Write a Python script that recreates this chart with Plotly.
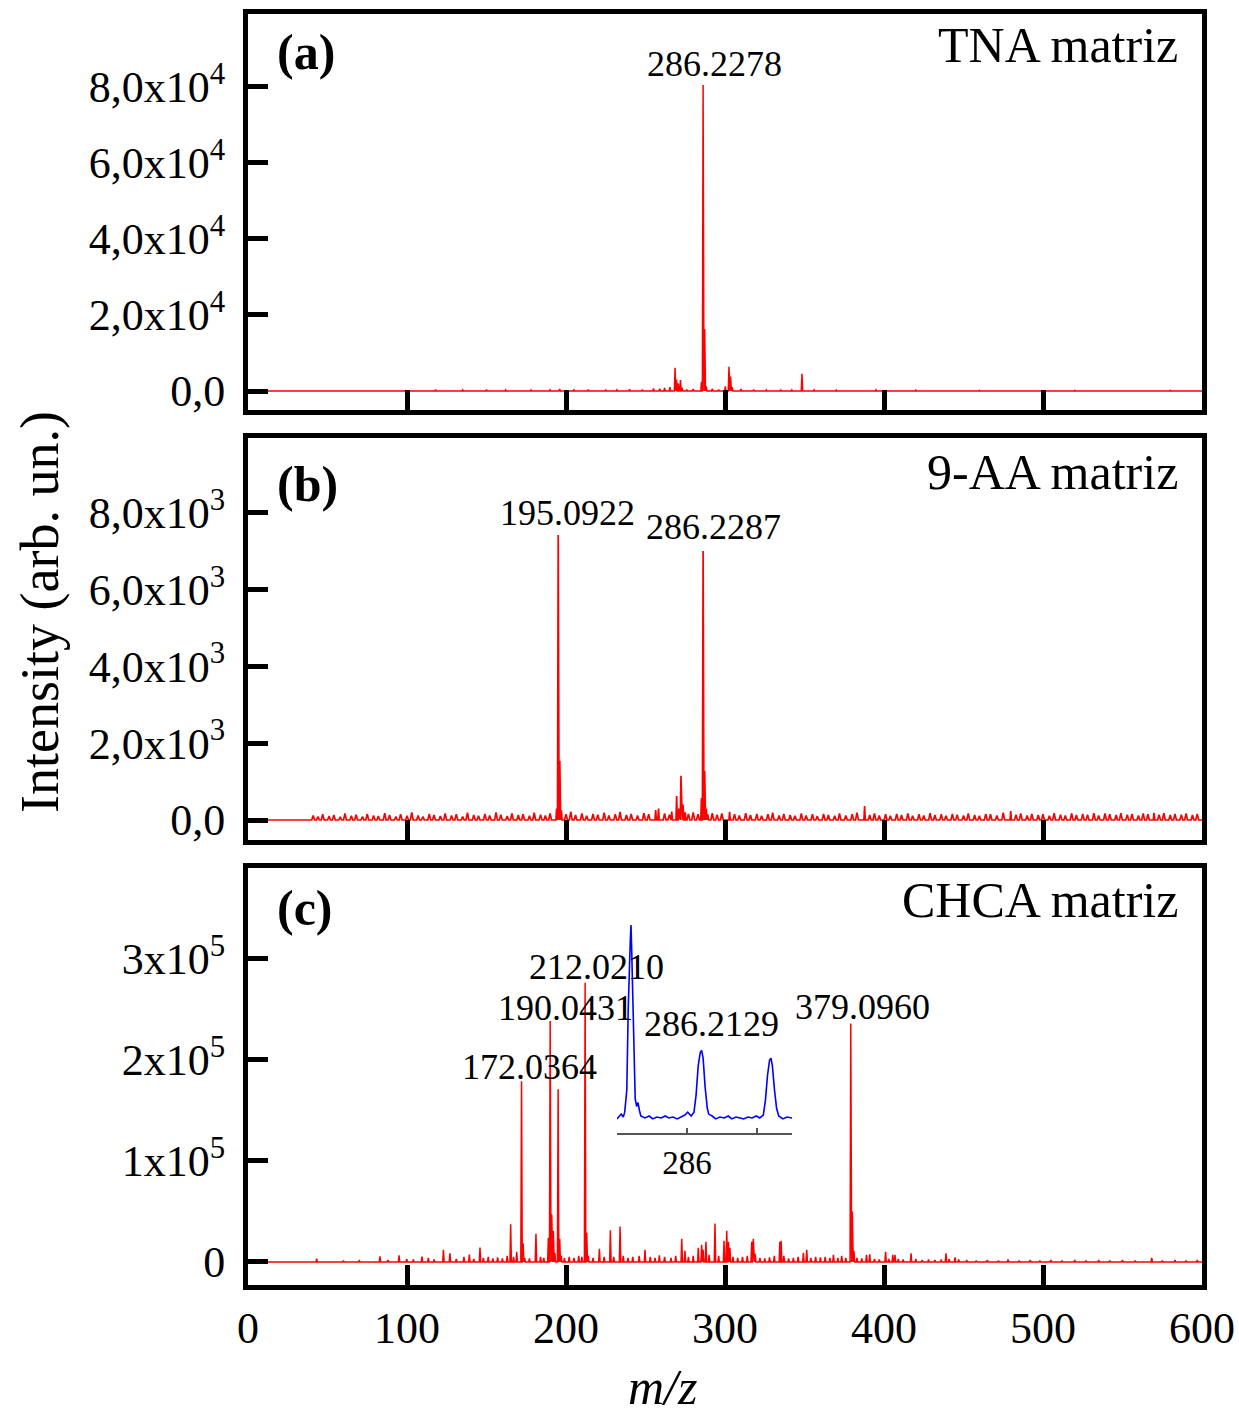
import plotly.graph_objects as go

# ---------------- data ----------------
MZ_RANGE = [0, 600]
MZ_TICKS = [0, 100, 200, 300, 400, 500, 600]

# (a) TNA matrix: centroid peaks (m/z, intensity)
TNA_PEAKS = [
    (118, 350), (135, 300), (150, 400), (162, 300), (178, 350), (190, 300),
    (196, 500), (205, 300), (214, 400), (225, 350), (232, 300), (240, 450),
    (248, 400), (255, 700), (259, 600), (262, 800), (265.4, 1000),
    (268.6, 6100), (269.5, 3000), (270.6, 2000), (272.0, 2900), (273.0, 900),
    (276, 400), (280, 500), (285.2, 2400), (286.2278, 80500), (287.23, 16300),
    (288.2, 1200), (292, 600), (296, 400), (300.2, 1200), (302.5, 6400),
    (303.5, 3800), (304.5, 1000), (310, 500), (318, 400), (326, 300),
    (335, 400), (342, 300), (348.4, 4500), (356, 300), (370, 250),
    (395, 300), (420, 250), (460, 200), (520, 200), (580, 200),
]

# (b) 9-AA matrix: main peaks
AA_PEAKS = [
    (194.1, 300), (195.0922, 7427), (196.1, 1545), (197.1, 250),
    (256.4, 260), (258.2, 300), (266.5, 220), (269.6, 625), (271.0, 300),
    (272.3, 1155), (273.6, 400), (275.0, 200), (285.2, 570), (286.2287, 7010),
    (287.23, 1277), (288.2, 300), (289.2, 150), (302.9, 216), (387.8, 365),
    (479.7, 235), (569.8, 190),
]
# (b) 9-AA matrix: baseline noise
AA_NOISE = [
    (41, 120), (44, 90), (47, 150), (51, 100), (54, 130), (58, 80), (61, 170),
    (65, 110), (68, 140), (72, 90), (75, 160), (79, 120), (82, 100), (86, 180),
    (89, 130), (93, 90), (96, 150), (100, 110), (103, 200), (107, 120),
    (110, 90), (114, 160), (117, 130), (121, 100), (124, 170), (128, 120),
    (131, 150), (135, 90), (138, 190), (142, 130), (145, 110), (149, 160),
    (152, 120), (156, 200), (159, 140), (163, 100), (166, 170), (170, 130),
    (173, 150), (177, 110), (180, 190), (184, 140), (187, 120), (190, 170),
    (200, 150), (203, 220), (206, 130), (210, 170), (213, 110), (217, 160),
    (220, 140), (224, 190), (227, 120), (231, 150), (234, 210), (238, 130),
    (241, 160), (245, 120), (249, 180), (252, 150), (262, 170), (265, 140),
    (277, 160), (280, 200), (283, 150), (292, 180), (295, 140), (298, 170),
    (306, 150), (309, 120), (313, 180), (316, 130), (320, 160), (323, 110),
    (327, 150), (330, 190), (334, 120), (337, 160), (341, 130), (344, 110),
    (348, 170), (351, 120), (355, 150), (358, 100), (362, 160), (365, 130),
    (369, 110), (372, 170), (376, 120), (380, 150), (383, 190), (391, 130),
    (394, 170), (397, 120), (401, 150), (404, 110), (408, 160), (411, 130),
    (415, 170), (418, 110), (422, 150), (425, 120), (429, 180), (432, 130),
    (436, 150), (439, 110), (443, 160), (446, 140), (450, 120), (453, 170),
    (457, 130), (460, 110), (464, 160), (467, 150), (471, 120), (475, 190),
    (483, 140), (486, 170), (490, 120), (493, 160), (497, 130), (500, 150),
    (504, 110), (507, 180), (511, 140), (514, 120), (518, 170), (521, 130),
    (525, 160), (528, 140), (532, 180), (535, 120), (539, 170), (542, 150),
    (546, 130), (549, 180), (553, 140), (556, 160), (560, 120), (563, 170),
    (566, 150), (573, 140), (576, 180), (580, 130), (583, 160), (587, 140),
    (590, 170), (594, 130), (597, 160),
]

# (c) CHCA matrix: centroid peaks
CHCA_PEAKS = [
    (43.2, 3400), (60, 1500), (70, 1200), (83.0, 5600), (88, 2000),
    (95.0, 6600), (99.8, 3000), (104, 2500), (109.4, 5200), (113.4, 4000),
    (117, 2500), (122.9, 12000), (127.0, 8600), (131, 3000), (135.8, 5000),
    (139.2, 7300), (142, 3000), (145.9, 14300), (148, 4000), (151.1, 5000),
    (154, 3500), (157, 4500), (160, 3500), (163, 6000), (165.2, 37400),
    (167, 5000), (169.0, 10000), (172.0364, 179000), (173.04, 18500),
    (174, 4000), (177, 3500), (181.1, 28000), (184, 5000), (186, 4000),
    (188.9, 24000), (190.0431, 238600), (191.05, 47000), (192.05, 31000),
    (193, 9000), (195.05, 171000), (196.05, 23000), (197, 6000), (199, 4000),
    (202, 5000), (205, 4000), (208, 6000), (210, 5000), (212.0210, 276500),
    (213.02, 29000), (214, 6000), (217, 4000), (221.0, 13000), (224, 5000),
    (227.9, 31500), (230, 5000), (234.0, 35000), (236, 6000), (239, 4000),
    (242, 5000), (246, 6000), (249.7, 12000), (253, 5000), (256, 4000),
    (258.7, 6600), (262, 5000), (266, 4000), (269, 6000), (272.8, 23000),
    (274.8, 11000), (277, 5000), (280, 6000), (283.2, 14000), (285.3, 17000),
    (286.2129, 12000), (288.0, 20000), (290, 7000), (293.7, 38000),
    (296, 6000), (299.4, 21000), (301.1, 31000), (302.2, 20000),
    (303.1, 14000), (305, 5000), (308, 4000), (311, 5000), (314, 6000),
    (316.8, 20000), (317.8, 23000), (319, 8000), (322, 4000), (325, 3500),
    (328, 4500), (331, 6000), (334.5, 20000), (335.3, 21000), (337, 6000),
    (340, 3500), (343, 4000), (346, 5000), (349.3, 9000), (351.4, 12000),
    (354, 4000), (357, 5000), (360, 4500), (363, 5000), (366, 4000),
    (368.2, 7000), (371, 4000), (373.4, 6000), (376, 4000),
    (379.0960, 236000), (380.1, 50000), (381.1, 11000), (383, 4000),
    (386, 3500), (389, 7000), (391, 7500), (394, 3000), (397, 2500),
    (401.0, 10000), (403, 3000), (405.5, 7000), (406.9, 7000), (409, 3000),
    (412, 2500), (417.0, 8500), (420, 3000), (424, 2000), (428, 2500),
    (432, 2000), (436, 2500), (439.0, 8500), (441, 3000), (444.7, 4500),
    (447, 2500), (452, 2000), (458, 1500), (465, 2000), (472, 1500),
    (478, 2500), (485, 1500), (492, 2000), (498, 1500), (505, 2000),
    (512, 1500), (520, 2000), (527, 1500), (535, 2000), (542, 1500),
    (550, 2000), (558, 1500), (568.4, 4000), (575, 1500), (583, 2000),
    (590, 1500), (597, 2000),
]

# (c) inset: zoomed profile around m/z 286 (relative intensity)
INSET_MZ = [
    285.00, 285.03, 285.06, 285.09, 285.11, 285.14, 285.16, 285.19, 285.20,
    285.21, 285.24, 285.26, 285.28, 285.30, 285.32, 285.34, 285.40, 285.46,
    285.51, 285.57, 285.63, 285.69, 285.74, 285.80, 285.86, 285.91, 285.97,
    286.01, 286.06, 286.10, 286.13, 286.16, 286.19, 286.21, 286.23, 286.26,
    286.29, 286.31, 286.36, 286.41, 286.47, 286.53, 286.59, 286.64, 286.70,
    286.76, 286.81, 286.87, 286.93, 286.99, 287.04, 287.09, 287.12, 287.15,
    287.18, 287.20, 287.22, 287.25, 287.28, 287.31, 287.37, 287.43, 287.47,
    287.50,
]
INSET_INT = [
    -0.5, 1, 2, 0.5, 3, 14.5, 56, 92, 100,
    87, 40, 10, 6, 8, 4, 1, 0, 1,
    -0.5, 0.5, 0, 1, 0, 0.5, -0.5, 0.5, 1.5,
    3, 1, 3, 12, 27, 34, 35, 31, 15.5,
    5, 2, 1, -0.5, 0.5, 0, 1, -0.5, 0.5,
    0, -0.5, 0.5, 0, 1, 0, 1.5, 9, 22,
    30, 31, 27, 14.5, 5, 1, -0.5, 0.5, 0,
    0,
]
INSET_TICKS = [285, 286, 287]
INSET_TICKTEXT = ["", "286", ""]

TICKS_A = [0, 20000, 40000, 60000, 80000]
TICKTEXT_A = ["0,0", "2,0x10<sup>4</sup>", "4,0x10<sup>4</sup>",
              "6,0x10<sup>4</sup>", "8,0x10<sup>4</sup>"]
TICKS_B = [0, 2000, 4000, 6000, 8000]
TICKTEXT_B = ["0,0", "2,0x10<sup>3</sup>", "4,0x10<sup>3</sup>",
              "6,0x10<sup>3</sup>", "8,0x10<sup>3</sup>"]
TICKS_C = [0, 100000, 200000, 300000]
TICKTEXT_C = ["0", "1x10<sup>5</sup>", "2x10<sup>5</sup>", "3x10<sup>5</sup>"]

# labelled peaks: (panel, m/z, intensity, xshift, yshift)
LABELS = [
    ("a", 286.2278, 80500, 11, -1),
    ("b", 195.0922, 7427, 9, 0),
    ("b", 286.2287, 7010, 10, 2),
    ("c", 212.0210, 276500, 11, -6),
    ("c", 190.0431, 238600, 15, -9),
    ("c", 172.0364, 179000, 8, -8),
    ("c", 379.0960, 236000, 12, -5),
    ("inset", 286.2129, 35, 10, 4),
]

MATRIX_NAMES = {"a": "TNA matriz", "b": "9-AA matriz", "c": "CHCA matriz"}

# ---------------- helpers ----------------
FONT = "Liberation Serif"
RED = "#ff0000"
BLUE = "#0000ff"


def stick_profile(groups, start=0.0, end=600.0):
    """Turn centroid lists into a triangular profile.

    groups: list of (peaks, half_width) pairs."""
    pts = [(start, 0.0)]
    for peaks, half in groups:
        for m, h in peaks:
            pts += [(m - half, 0.0), (m, h), (m + half, 0.0)]
    pts.append((end, 0.0))
    pts.sort(key=lambda p: p[0])
    return [p[0] for p in pts], [p[1] for p in pts]


fig = go.Figure()

xa, ya = stick_profile([(TNA_PEAKS, 0.45)])
fig.add_trace(go.Scatter(x=xa, y=ya, mode="lines", line=dict(color=RED, width=1.5),
                         xaxis="x", yaxis="y", hoverinfo="skip"))

xb, yb = stick_profile([(AA_PEAKS, 0.45), (AA_NOISE, 0.9)])
fig.add_trace(go.Scatter(x=xb, y=yb, mode="lines", line=dict(color=RED, width=1.7),
                         xaxis="x2", yaxis="y2", hoverinfo="skip"))

xc, yc = stick_profile([(CHCA_PEAKS, 0.45)])
fig.add_trace(go.Scatter(x=xc, y=yc, mode="lines", line=dict(color=RED, width=1.5),
                         xaxis="x3", yaxis="y3", hoverinfo="skip"))

fig.add_trace(go.Scatter(x=INSET_MZ, y=INSET_INT, mode="lines",
                         line=dict(color=BLUE, width=1.6),
                         xaxis="x4", yaxis="y4", hoverinfo="skip"))

W, H = 1239, 1415
ML, MR, MT, MB = 248, 37, 14, 130
PW = W - ML - MR
PH = H - MT - MB


def py_to_paper(py):
    return (H - MB - py) / PH


def px_to_paper(px):
    return (px - ML) / PW


tick_font = dict(family=FONT, size=44, color="black")

frame = dict(showline=True, linewidth=5, linecolor="black", mirror=True,
             ticks="inside", ticklen=20, tickwidth=5, tickcolor="black",
             showgrid=False, zeroline=False, tickfont=tick_font,
             automargin=False)

dom_a = [py_to_paper(410), py_to_paper(14)]
dom_b = [py_to_paper(840), py_to_paper(438)]
dom_c = [py_to_paper(1285), py_to_paper(868)]

layout = dict(
    width=W, height=H,
    margin=dict(l=ML, r=MR, t=MT, b=MB, autoexpand=False),
    paper_bgcolor="white", plot_bgcolor="white",
    showlegend=False,
    font=dict(family=FONT, color="black"),
    xaxis=dict(frame, domain=[0, 1], anchor="y", range=MZ_RANGE,
               tickvals=MZ_TICKS, showticklabels=False),
    yaxis=dict(frame, domain=dom_a, anchor="x", range=[-5000, 99200],
               tickvals=TICKS_A, ticktext=TICKTEXT_A, ticklabelstandoff=9),
    xaxis2=dict(frame, domain=[0, 1], anchor="y2", range=MZ_RANGE,
                tickvals=MZ_TICKS, showticklabels=False),
    yaxis2=dict(frame, domain=dom_b, anchor="x2", range=[-521, 9954],
                tickvals=TICKS_B, ticktext=TICKTEXT_B, ticklabelstandoff=9),
    xaxis3=dict(frame, domain=[0, 1], anchor="y3", range=MZ_RANGE,
                tickvals=MZ_TICKS, ticklabelstandoff=0),
    yaxis3=dict(frame, domain=dom_c, anchor="x3", range=[-22800, 390000],
                tickvals=TICKS_C, ticktext=TICKTEXT_C, ticklabelstandoff=9),
    xaxis4=dict(domain=[px_to_paper(617), px_to_paper(792)], anchor="y4",
                range=[285, 287.5], tickvals=INSET_TICKS, ticktext=INSET_TICKTEXT,
                showline=True, linewidth=1.5, linecolor="#555555",
                ticks="inside", ticklen=5, tickwidth=1.5, tickcolor="#555555",
                showgrid=False, zeroline=False, automargin=False,
                tickfont=dict(family=FONT, size=33, color="black"),
                ticklabelstandoff=0),
    yaxis4=dict(domain=[py_to_paper(1133), py_to_paper(920)], anchor="x4",
                range=[-7.8, 102.6], visible=False),
)
fig.update_layout(**layout)

annotations = []
axis_of = {"a": ("x", "y"), "b": ("x2", "y2"), "c": ("x3", "y3"), "inset": ("x4", "y4")}
for panel, mz, inten, dx, dy in LABELS:
    xr, yr = axis_of[panel]
    annotations.append(dict(x=mz, y=inten, xref=xr, yref=yr, text=f"{mz:.4f}",
                            showarrow=False, xanchor="center", yanchor="bottom",
                            xshift=dx, yshift=dy,
                            font=dict(family=FONT, size=36, color="black")))

panel_pos = {"a": (0.904, 0.922), "b": (0.886, 0.915), "c": (0.904, 0.923)}
for panel, (ly, ry) in panel_pos.items():
    xr, yr = axis_of[panel]
    annotations.append(dict(x=0.0283, y=ly, xref=f"{xr} domain", yref=f"{yr} domain",
                            text=f"<b>({panel})</b>", showarrow=False,
                            xanchor="left", yanchor="middle",
                            font=dict(family=FONT, size=50, color="black")))
    annotations.append(dict(x=0.977, y=ry, xref=f"{xr} domain", yref=f"{yr} domain",
                            text=MATRIX_NAMES[panel], showarrow=False,
                            xanchor="right", yanchor="middle",
                            font=dict(family=FONT, size=50, color="black")))

annotations.append(dict(x=px_to_paper(40), y=py_to_paper(612), xref="paper", yref="paper",
                        text="Intensity (arb. un.)", textangle=-90, showarrow=False,
                        xanchor="center", yanchor="middle",
                        font=dict(family=FONT, size=54, color="black")))
annotations.append(dict(x=px_to_paper(662), y=py_to_paper(1387), xref="paper", yref="paper",
                        text="<i>m/z</i>", showarrow=False,
                        xanchor="center", yanchor="middle",
                        font=dict(family=FONT, size=50, color="black")))

fig.update_layout(annotations=annotations)
fig.write_html("out.html")
